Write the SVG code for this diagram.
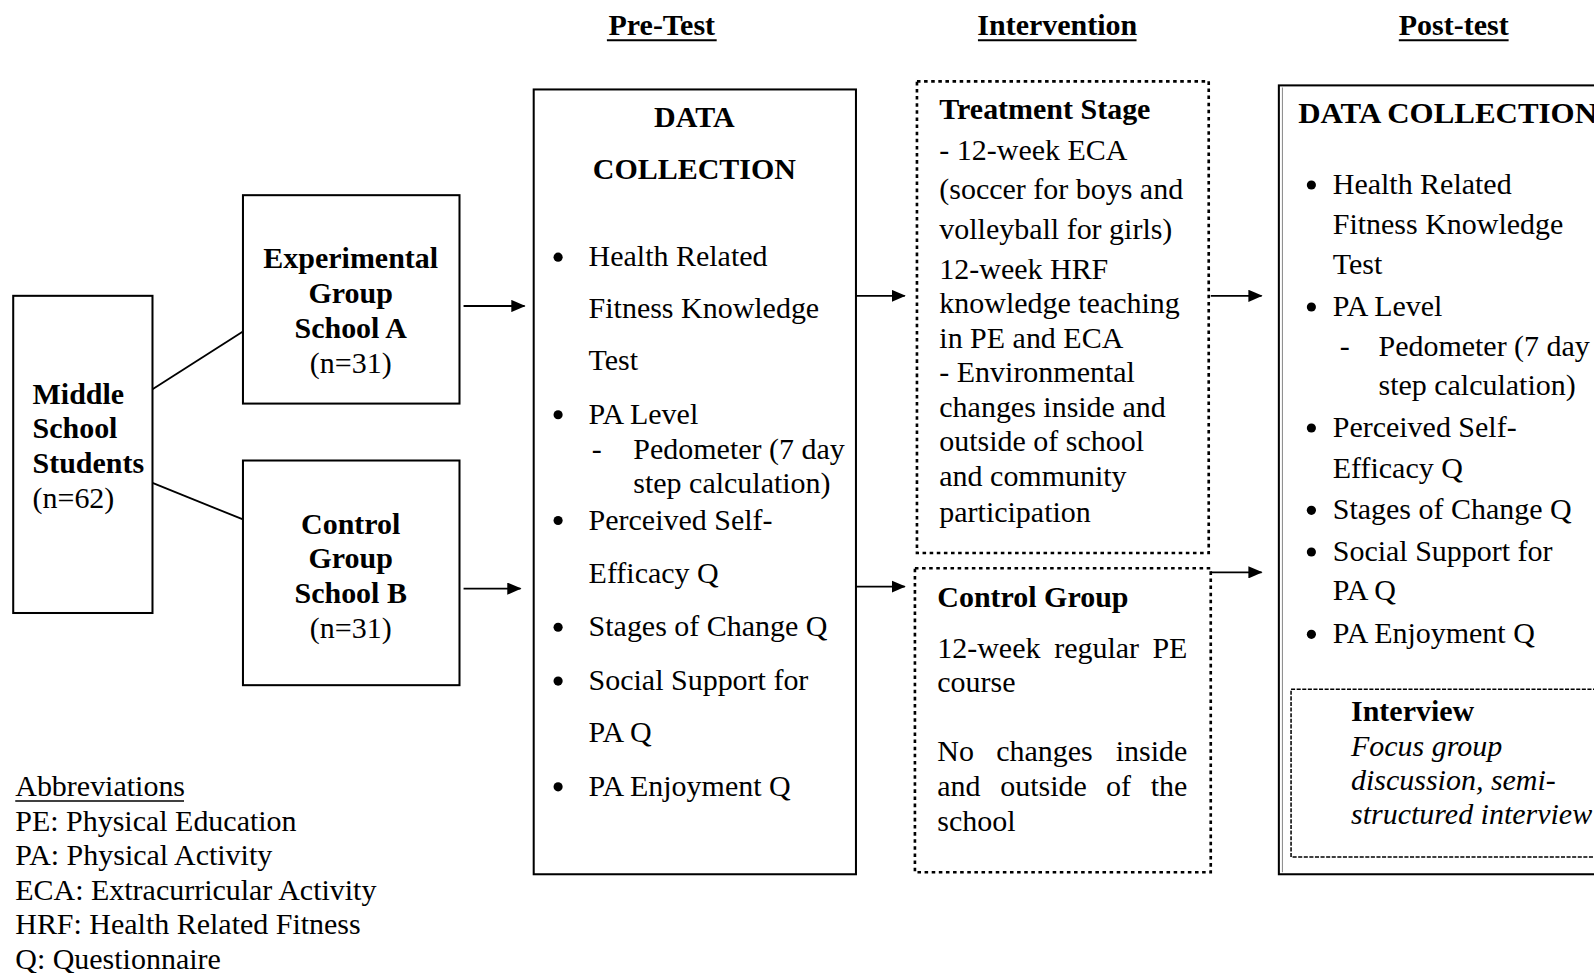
<svg xmlns="http://www.w3.org/2000/svg" width="1594" height="973" viewBox="0 0 1594 973">
<defs>
<marker id="ah" markerWidth="14" markerHeight="12" refX="13" refY="6" orient="auto" markerUnits="userSpaceOnUse">
<path d="M0,0 L14,6 L0,12 Z" fill="#000"/>
</marker>
<style>
text{font-family:"Liberation Serif","Times New Roman",serif;font-size:29.5px;fill:#000}
.b{font-weight:bold}
.i{font-style:italic}
.c{text-anchor:middle}
.e{text-anchor:end}
.box{fill:#fff;stroke:#000;stroke-width:2}
.dot{fill:none;stroke:#000;stroke-width:2.6;stroke-dasharray:3.5 3.5}
.dash{fill:none;stroke:#000;stroke-width:1.5;stroke-dasharray:4 1.5}
.ln{stroke:#000;stroke-width:1.8;fill:none}
.ar{stroke:#000;stroke-width:1.8;fill:none;marker-end:url(#ah)}
.ul{stroke:#000;stroke-width:2}
</style>
</defs>
<rect width="1594" height="973" fill="#fff"/>
<g transform="scale(1.01658)">
<g id="titles">
<text class="b c" x="651" y="34">Pre-Test</text>
<line class="ul" x1="597" y1="39.5" x2="705" y2="39.5"/>
<text class="b c" x="1040" y="34">Intervention</text>
<line class="ul" x1="962" y1="39.5" x2="1118" y2="39.5"/>
<text class="b c" x="1430" y="34">Post-test</text>
<line class="ul" x1="1376" y1="39.5" x2="1484" y2="39.5"/>
</g>
<g id="connectors">
<line class="ln" x1="150" y1="383" x2="239" y2="326"/>
<line class="ln" x1="150" y1="475" x2="239" y2="511"/>
<line class="ar" x1="456" y1="301" x2="516" y2="301"/>
<line class="ar" x1="456" y1="579" x2="512" y2="579"/>
<line class="ar" x1="842" y1="291" x2="890" y2="291"/>
<line class="ar" x1="842" y1="577" x2="890" y2="577"/>
<line class="ar" x1="1191" y1="291" x2="1241" y2="291"/>
<line class="ar" x1="1191" y1="563" x2="1241" y2="563"/>
</g>
<g id="students">
<rect class="box" x="13" y="291" width="137" height="312"/>
<text class="b" x="32" y="397">Middle</text>
<text class="b" x="32" y="431">School</text>
<text class="b" x="32" y="465">Students</text>
<text x="32" y="500">(n=62)</text>
</g>
<g id="experimental">
<rect class="box" x="239" y="192" width="213" height="205"/>
<text class="b c" x="345" y="264">Experimental</text>
<text class="b c" x="345" y="298">Group</text>
<text class="b c" x="345" y="332">School A</text>
<text class="c" x="345" y="367">(n=31)</text>
</g>
<g id="control">
<rect class="box" x="239" y="453" width="213" height="221"/>
<text class="b c" x="345" y="525">Control</text>
<text class="b c" x="345" y="559">Group</text>
<text class="b c" x="345" y="593">School B</text>
<text class="c" x="345" y="628">(n=31)</text>
</g>
<g id="pretest">
<rect class="box" x="525" y="88" width="317" height="772"/>
<text class="b c" x="683" y="125">DATA</text>
<text class="b c" x="683" y="176">COLLECTION</text>
<circle cx="549" cy="253" r="4.5"/>
<text x="579" y="262">Health Related</text>
<text x="579" y="313">Fitness Knowledge</text>
<text x="579" y="364">Test</text>
<circle cx="549" cy="408" r="4.5"/>
<text x="579" y="417">PA Level</text>
<text x="582" y="452">-</text>
<text x="623" y="452">Pedometer (7 day</text>
<text x="623" y="485">step calculation)</text>
<circle cx="549" cy="512" r="4.5"/>
<text x="579" y="521">Perceived Self-</text>
<text x="579" y="573">Efficacy Q</text>
<circle cx="549" cy="617" r="4.5"/>
<text x="579" y="626">Stages of Change Q</text>
<circle cx="549" cy="670" r="4.5"/>
<text x="579" y="679">Social Support for</text>
<text x="579" y="730">PA Q</text>
<circle cx="549" cy="774" r="4.5"/>
<text x="579" y="783">PA Enjoyment Q</text>
</g>
<g id="treatment">
<rect class="dot" x="902" y="80" width="287" height="464"/>
<text class="b" x="924" y="117">Treatment Stage</text>
<text x="924" y="157">- 12-week ECA</text>
<text x="924" y="196">(soccer for boys and</text>
<text x="924" y="235">volleyball for girls)</text>
<text x="924" y="274">12-week HRF</text>
<text x="924" y="308">knowledge teaching</text>
<text x="924" y="342">in PE and ECA</text>
<text x="924" y="376">- Environmental</text>
<text x="924" y="410">changes inside and</text>
<text x="924" y="444">outside of school</text>
<text x="924" y="478">and community</text>
<text x="924" y="513">participation</text>
</g>
<g id="controlstage">
<rect class="dot" x="900" y="559" width="291" height="299"/>
<text class="b" x="922" y="597">Control Group</text>
<text x="922" y="647">12-week</text>
<text x="1037" y="647">regular</text>
<text class="e" x="1168" y="647">PE</text>
<text x="922" y="681">course</text>
<text x="922" y="749">No</text>
<text x="980" y="749">changes</text>
<text class="e" x="1168" y="749">inside</text>
<text x="922" y="783">and</text>
<text x="984" y="783">outside</text>
<text x="1088" y="783">of</text>
<text class="e" x="1168" y="783">the</text>
<text x="922" y="817">school</text>
</g>
<g id="posttest">
<rect class="box" x="1258" y="84" width="340" height="776"/>
<line x1="1261.5" y1="86" x2="1261.5" y2="858" stroke="#888" stroke-width="1"/>
<text class="b" x="1277" y="121" textLength="294" lengthAdjust="spacingAndGlyphs">DATA COLLECTION</text>
<circle cx="1290" cy="182" r="4.5"/>
<text x="1311" y="191">Health Related</text>
<text x="1311" y="230">Fitness Knowledge</text>
<text x="1311" y="270">Test</text>
<circle cx="1290" cy="302" r="4.5"/>
<text x="1311" y="311">PA Level</text>
<text x="1318" y="350">-</text>
<text x="1356" y="350">Pedometer (7 day</text>
<text x="1356" y="389">step calculation)</text>
<circle cx="1290" cy="421" r="4.5"/>
<text x="1311" y="430">Perceived Self-</text>
<text x="1311" y="470">Efficacy Q</text>
<circle cx="1290" cy="502" r="4.5"/>
<text x="1311" y="511">Stages of Change Q</text>
<circle cx="1290" cy="543" r="4.5"/>
<text x="1311" y="552">Social Support for</text>
<text x="1311" y="590">PA Q</text>
<circle cx="1290" cy="624" r="4.5"/>
<text x="1311" y="633">PA Enjoyment Q</text>
</g>
<g id="interview">
<rect class="dash" x="1270" y="678" width="330" height="165"/>
<text class="b" x="1329" y="709">Interview</text>
<text class="i" x="1329" y="744">Focus group</text>
<text class="i" x="1329" y="777">discussion, semi-</text>
<text class="i" x="1329" y="811">structured interview</text>
</g>
<g id="abbreviations">
<text x="15" y="783">Abbreviations</text>
<line x1="15" y1="788" x2="181" y2="788" stroke="#000" stroke-width="1.5"/>
<text x="15" y="817">PE: Physical Education</text>
<text x="15" y="851">PA: Physical Activity</text>
<text x="15" y="885">ECA: Extracurricular Activity</text>
<text x="15" y="919">HRF: Health Related Fitness</text>
<text x="15" y="953">Q: Questionnaire</text>
</g>
</g>
</svg>
